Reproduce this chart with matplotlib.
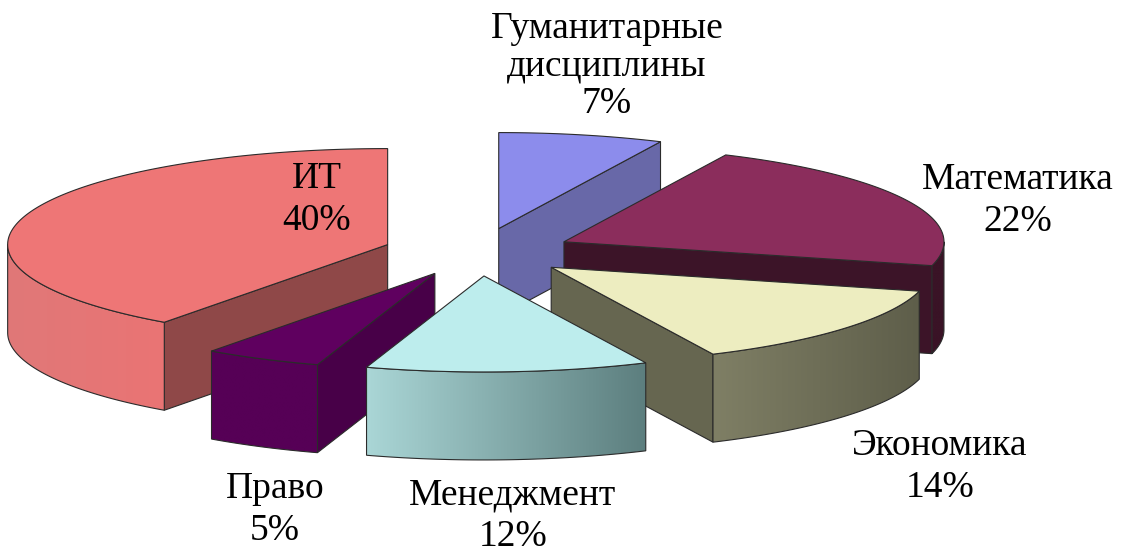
import numpy as np
import matplotlib
matplotlib.use("Agg")
import matplotlib.pyplot as plt
from matplotlib.patches import Polygon
from matplotlib.colors import LinearSegmentedColormap

# ── data (clockwise from 12 o'clock) ─────────────────────────
labels = ["Гуманитарные\nдисциплины", "Математика", "Экономика",
          "Менеджмент", "Право", "ИТ"]
values = [7, 22, 14, 12, 5, 40]

# ── style ────────────────────────────────────────────────────
top_colors  = ["#8C8CEC", "#8B2D5C", "#EDEDC0", "#BDEDED", "#5F005F", "#EE7676"]
face_colors = ["#6868A8", "#3C1428", "#666650", "#5D7F7F", "#480048", "#8F4848"]
wall_left   = ["#6868A8", "#3A1326", "#7F7F65", "#AAD6D6", "#560056", "#E07878"]
wall_right  = ["#6868A8", "#3A1326", "#5E5E4A", "#5C7E7E", "#560056", "#EA7474"]
label_pos   = [(607, 66), (1018, 201), (940, 467), (513, 516), (275, 510), (317, 200)]
label_gap   = [1.12, 1.3, 1.3, 1.25, 1.3, 1.27]

CX, CY = 478, 252          # pie centre (pixels)
RX, RY = 380, 96           # ellipse radii
DEPTH = 88                 # thickness
EXPLODE = 0.25
EDGE = "#2b2b2b"


def rim(cx, cy, th, dz=0.0):
    th = np.radians(th)
    return np.column_stack([cx + RX * np.sin(th), cy - RY * np.cos(th) + dz])


fig = plt.figure(figsize=(11.22, 5.54), dpi=100)
ax = fig.add_axes([0, 0, 1, 1])
ax.set_xlim(0, 1122)
ax.set_ylim(554, 0)
ax.axis("off")

total = float(sum(values))
bounds = np.concatenate([[0], np.cumsum(values)]) / total * 360.0

slices = []
for i in range(len(values)):
    a, b = bounds[i], bounds[i + 1]
    mid = np.radians((a + b) / 2)
    cx = CX + EXPLODE * RX * np.sin(mid)
    cy = CY - EXPLODE * RY * np.cos(mid)
    slices.append((cy, i, a, b, cx))

# painter's order: back slices first
for rank, (cy, i, a, b, cx) in enumerate(sorted(slices)):
    z = rank * 10

    # flat radial faces facing the viewer
    for th, show in ((a, np.sin(np.radians(a)) < -1e-6),
                     (b, np.sin(np.radians(b)) > 1e-6)):
        if not show:
            continue
        p = rim(cx, cy, [th])[0]
        quad = [(cx, cy), tuple(p), (p[0], p[1] + DEPTH), (cx, cy + DEPTH)]
        ax.add_patch(Polygon(quad, closed=True, fc=face_colors[i], ec=EDGE,
                             lw=0.8, zorder=z + 1))

    # curved outer wall (front half only)
    w0, w1 = max(a, 90.0), min(b, 270.0)
    if w1 > w0:
        th = np.linspace(w0, w1, 120)
        top = rim(cx, cy, th)
        bot = rim(cx, cy, th[::-1], DEPTH)
        pts = np.vstack([top, bot])
        outline = Polygon(pts, closed=True, fc="none", ec=EDGE, lw=0.8, zorder=z + 3)
        ax.add_patch(outline)
        cmap = LinearSegmentedColormap.from_list("w", [wall_left[i], wall_right[i]])
        x0, x1 = pts[:, 0].min(), pts[:, 0].max()
        y0, y1 = pts[:, 1].min(), pts[:, 1].max()
        im = ax.imshow(np.linspace(0, 1, 256)[None, :], cmap=cmap, aspect="auto",
                       extent=[x0, x1, y1, y0], interpolation="bilinear", zorder=z + 2)
        clip = Polygon(pts, closed=True, transform=ax.transData, fc="none", ec="none")
        im.set_clip_path(clip)

    # top face
    th = np.linspace(a, b, 200)
    pts = np.vstack([[cx, cy], rim(cx, cy, th)])
    ax.add_patch(Polygon(pts, closed=True, fc=top_colors[i], ec=EDGE,
                         lw=0.8, zorder=z + 4))

ax.set_xlim(0, 1122)
ax.set_ylim(554, 0)

for lab, val, (x, y), gap in zip(labels, values, label_pos, label_gap):
    ax.text(x, y, f"{lab}\n{val}%", ha="center", va="center", fontsize=27,
            family="Liberation Serif", linespacing=gap, zorder=100)

fig.savefig("out.png", dpi=100)
